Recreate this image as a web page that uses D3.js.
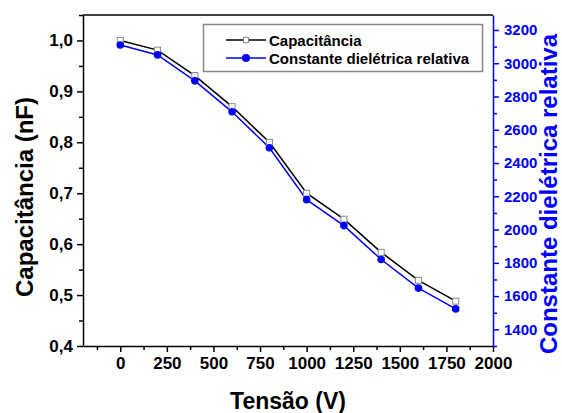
<!DOCTYPE html>
<html><head><meta charset="utf-8">
<script src="https://cdn.jsdelivr.net/npm/d3@7"></script>
<style>body{margin:0;background:#fff}svg{display:block}text{font-family:"Liberation Sans",Arial,sans-serif;font-weight:bold}</style>
</head><body>
<svg id="c" width="562" height="413"></svg>
<script>
const tensao = [0,200,400,600,800,1000,1200,1400,1600,1800];
const capacitancia = [1.00,0.981,0.931,0.870,0.800,0.700,0.649,0.584,0.529,0.488];
const constante = [3110,3050,2894,2708,2492,2180,2024,1820,1648,1523];
const xTicks = [0,250,500,750,1000,1250,1500,1750,2000];
const yLeftTicks = [0.4,0.5,0.6,0.7,0.8,0.9,1.0];
const yRightTicks = [1400,1600,1800,2000,2200,2400,2600,2800,3000,3200];
const seriesNames = ["Capacitância","Constante dielétrica relativa"];

const svg = d3.select("#c");
const L=83,R=493,T=15,B=346;
const x = d3.scaleLinear().domain([-200,2000]).range([L,R]);
const yL = d3.scaleLinear().domain([0.4,1.05]).range([B,T]);
const yR = d3.scaleLinear().domain([1300,3290]).range([B,T]);
const blue="#0000ff";
const fmt = d3.format(".1f");
const FF = '"Liberation Sans",Arial,sans-serif';

// frame top
svg.append("line").attr("x1",L).attr("x2",R).attr("y1",T).attr("y2",T).attr("stroke","#000").attr("stroke-width",1.5);

// X axis
const gx = svg.append("g").attr("transform",`translate(0,${B})`);
gx.call(d3.axisBottom(x).tickValues(xTicks).tickSize(6).tickSizeOuter(0).tickPadding(5).tickFormat(d3.format("d")));
gx.append("g").call(d3.axisBottom(x).tickValues(d3.range(-125,2000,250)).tickSize(4).tickFormat("")).select(".domain").remove();
gx.selectAll(".domain").attr("stroke-width",1.5);
gx.selectAll("line").attr("stroke-width",1.5);
gx.selectAll("text").attr("font-size",17).attr("fill","#000").style("font-family",FF);

// Left axis
const gl = svg.append("g").attr("transform",`translate(${L},0)`);
gl.call(d3.axisLeft(yL).tickValues(yLeftTicks).tickSize(6).tickSizeOuter(0).tickPadding(4).tickFormat(d=>fmt(d).replace(".",",")));
gl.append("g").call(d3.axisLeft(yL).tickValues([0.45,0.55,0.65,0.75,0.85,0.95,1.05]).tickSize(4).tickFormat("")).select(".domain").remove();
gl.selectAll(".domain").attr("stroke-width",1.5);
gl.selectAll("line").attr("stroke-width",1.5);
gl.selectAll("text").attr("font-size",17).attr("fill","#000").style("font-family",FF);

// Right axis
const gr = svg.append("g").attr("transform",`translate(${R},0)`);
gr.call(d3.axisRight(yR).tickValues(yRightTicks).tickSize(6).tickSizeOuter(0).tickPadding(5).tickFormat(d3.format("d")));
gr.append("g").call(d3.axisRight(yR).tickValues(d3.range(1300,3290,200)).tickSize(4).tickFormat("")).select(".domain").remove();
gr.selectAll(".domain").attr("stroke",blue).attr("stroke-width",1.5);
gr.selectAll("line").attr("stroke",blue).attr("stroke-width",1.5);
gr.selectAll("text").attr("font-size",15).attr("fill",blue).style("font-family",FF);

// Lines
const lineC = d3.line().x((d,i)=>x(tensao[i])).y(d=>yL(d));
const lineD = d3.line().x((d,i)=>x(tensao[i])).y(d=>yR(d));
svg.append("path").attr("d",lineC(capacitancia)).attr("fill","none").attr("stroke","#000").attr("stroke-width",1.5);
svg.append("path").attr("d",lineD(constante)).attr("fill","none").attr("stroke",blue).attr("stroke-width",1.5);
svg.selectAll(".sq").data(capacitancia).enter().append("rect")
  .attr("x",(d,i)=>x(tensao[i])-3).attr("y",d=>yL(d)-3).attr("width",6).attr("height",6)
  .attr("fill","#fff").attr("stroke","#888").attr("stroke-width",1);
svg.selectAll(".dt").data(constante).enter().append("circle")
  .attr("cx",(d,i)=>x(tensao[i])).attr("cy",d=>yR(d)).attr("r",3.8).attr("fill",blue);

// Legend
svg.append("rect").attr("x",203.5).attr("y",24.5).attr("width",279).attr("height",47).attr("fill","#fff").attr("stroke","#888").attr("stroke-width",1.5);
const lg = [{y:40,c:"#000"},{y:58,c:blue}];
lg.forEach((o,i)=>{
  svg.append("line").attr("x1",226).attr("x2",266).attr("y1",o.y).attr("y2",o.y).attr("stroke",o.c).attr("stroke-width",1.5);
  if(i===0) svg.append("rect").attr("x",243.5).attr("y",o.y-2.5).attr("width",5).attr("height",5).attr("fill","#fff").attr("stroke","#888").attr("stroke-width",1);
  else svg.append("circle").attr("cx",246).attr("cy",o.y).attr("r",4).attr("fill",blue);
  svg.append("text").attr("x",269).attr("y",o.y+5.5).attr("font-size",15).attr("fill","#000").text(seriesNames[i]);
});

// Titles
svg.append("text").attr("x",288).attr("y",409).attr("text-anchor","middle").attr("font-size",23).text("Tensão (V)");
svg.append("text").attr("transform","translate(33,197) rotate(-90)").attr("text-anchor","middle").attr("font-size",24).text("Capacitância (nF)");
svg.append("text").attr("transform","translate(557,194) rotate(-90)").attr("text-anchor","middle").attr("font-size",24).attr("fill",blue).text("Constante dielétrica relativa");
</script>
</body></html>
